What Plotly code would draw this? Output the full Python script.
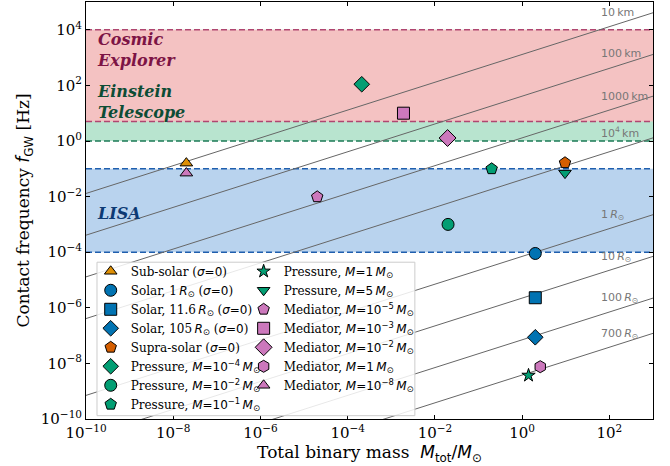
import plotly.graph_objects as go
import numpy as np

# ---------------- data ----------------
# Axis extents (decades)
x_range_log = [-10, 3]
y_range_log = [-10, 5]
x_tick_vals = [1e-10, 1e-8, 1e-6, 1e-4, 1e-2, 1e0, 1e2]
y_tick_vals = [1e-10, 1e-8, 1e-6, 1e-4, 1e-2, 1e0, 1e2, 1e4]

# Detector bands [f_low, f_high] in Hz
band_ce = [5.0, 1e4]
band_et = [1.0, 1e4]
band_lisa = [1e-4, 1e-1]

# Constant-separation lines: frequency at the two ends of the mass axis
line_labels = ["10 km", "100 km", "1000 km", "10<sup>4</sup> km",
               "1 R", "10 R", "100 R", "700 R"]
line_mass_ends = [1e-10, 1e3]
line_f_left = [1.297e-2, 4.100e-4, 1.297e-5, 4.100e-7, 7.066e-10, 2.234e-11, 7.066e-13, 3.815e-14]
line_f_right = [4.100e4, 1.297e3, 41.0, 1.297, 2.234e-3, 7.066e-5, 2.234e-6, 1.206e-7]

# Benchmark points
point_mass = [2e-8, 2.0, 2.0, 2.0, 9.6, 2.1e-4, 0.02, 0.2,
              1.4, 9.6, 2e-5, 1.9e-3, 0.0195, 2.6, 2e-8]
point_freq = [0.16, 9e-5, 2.3e-6, 8.7e-8, 0.165, 110.0, 1.0e-3, 0.1,
              3.7e-9, 0.07, 0.0098, 10.0, 1.28, 7.6e-9, 0.07]

SANS = "DejaVu Sans"
SERIF = "DejaVu Serif"
TS = "\u2009"  # thin space

def m(s):
    return "<span style=\"font-family:'DejaVu Sans'\">" + s + "</span>"

def pow_label(v):
    e = int(round(np.log10(v)))
    return "10<sup>" + (("−%d" % -e) if e < 0 else "%d" % e) + "</sup>"

RSUN = m("<i>R</i><sub>⊙</sub>")
SIG = "(" + m("<i>σ</i>=0") + ")"
def Mpow(p):
    return m("<i>M</i>=10<sup>−" + str(p) + "</sup>" + TS + "<i>M</i><sub>⊙</sub>")

point_names = [
    "Sub-solar " + SIG,
    "Solar, 1" + TS + RSUN + " " + SIG,
    "Solar, 11.6" + TS + RSUN + " " + SIG,
    "Solar, 105" + TS + RSUN + " " + SIG,
    "Supra-solar " + SIG,
    "Pressure, " + Mpow(4),
    "Pressure, " + Mpow(2),
    "Pressure, " + Mpow(1),
    "Pressure, " + m("<i>M</i>=1" + TS + "<i>M</i><sub>⊙</sub>"),
    "Pressure, " + m("<i>M</i>=5" + TS + "<i>M</i><sub>⊙</sub>"),
    "Mediator, " + Mpow(5),
    "Mediator, " + Mpow(3),
    "Mediator, " + Mpow(2),
    "Mediator, " + m("<i>M</i>=1" + TS + "<i>M</i><sub>⊙</sub>"),
    "Mediator, " + Mpow(8),
]

# ---------------- styles ----------------
C_BLUE = "#0173B2"
C_ORANGE = "#DE8F05"
C_GREEN = "#029E73"
C_RED = "#D55E00"
C_PINK = "#CC78BC"
point_colors = [C_ORANGE, C_BLUE, C_BLUE, C_BLUE, C_RED, C_GREEN, C_GREEN, C_GREEN,
                C_GREEN, C_GREEN, C_PINK, C_PINK, C_PINK, C_PINK, C_PINK]
point_symbols = ["triangle-up", "circle", "square", "diamond", "pentagon", "diamond",
                 "circle", "pentagon", "star", "triangle-down", "pentagon", "square",
                 "diamond", "hexagon", "triangle-up"]
point_sizes = [11, 12, 12, 12, 12, 12, 12, 12, 10, 11, 12, 12, 13, 12, 11]
point_legend = ["legend"] * 8 + ["legend2"] * 7

fig = go.Figure()

# detector bands (filled regions)
def band_shape(lo, hi, color):
    fig.add_shape(type="rect", xref="paper", yref="y", x0=0, x1=1, y0=lo, y1=hi,
                  fillcolor=color, line_width=0, layer="below")

band_shape(band_et[0], band_et[1], "#b8e4cf")
band_shape(band_ce[0], band_ce[1], "#f4c2c2")
band_shape(band_lisa[0], band_lisa[1], "#b9d3ee")

def hline(yv, color):
    fig.add_shape(type="line", xref="paper", yref="y", x0=0, x1=1, y0=yv, y1=yv,
                  line=dict(color=color, width=1.6, dash="6px,3px"), layer="below")

hline(band_et[0], "#1b7a55")
hline(band_lisa[0], "#1f5fae")
hline(band_lisa[1], "#1f5fae")
hline(band_ce[0], "#b04670")
hline(band_ce[1], "#b04670")

# constant-separation lines
for i in range(len(line_labels)):
    fig.add_trace(go.Scatter(x=line_mass_ends, y=[line_f_left[i], line_f_right[i]],
                             mode="lines", line=dict(color="#666666", width=1),
                             showlegend=False, hoverinfo="skip"))

# line labels (positions)
label_x_log = 1.77
label_y_log = [4.62, 3.15, 1.60, 0.31, -2.67, -4.18, -5.65, -6.94]
for i, t in enumerate(line_labels):
    txt = t.replace(" ", TS)
    if t.endswith(" R"):
        txt = t[:-2] + TS + "<i>R</i><sub>⊙</sub>"
    fig.add_annotation(x=label_x_log, y=label_y_log[i], xref="x", yref="y", text=txt,
                       showarrow=False, xanchor="left", yanchor="middle",
                       font=dict(family=SANS, size=11, color="#777777"))

# band labels
band_font = dict(family=SERIF, size=16, weight="bold", style="italic")
fig.add_annotation(x=0.016, y=4.05, xref="paper", yref="y",
                   text="Cosmic<br>Explorer", showarrow=False, xanchor="left", yanchor="top",
                   align="left", font=dict(color="#7d1445", **band_font))
fig.add_annotation(x=0.016, y=2.2, xref="paper", yref="y",
                   text="Einstein<br>Telescope", showarrow=False, xanchor="left", yanchor="top",
                   align="left", font=dict(color="#0d4d35", **band_font))
fig.add_annotation(x=0.016, y=-2.6, xref="paper", yref="y",
                   text="LISA", showarrow=False, xanchor="left", yanchor="middle",
                   align="left", font=dict(color="#0d3a74", **band_font))

# points
for i in range(len(point_names)):
    fig.add_trace(go.Scatter(x=[point_mass[i]], y=[point_freq[i]], mode="markers",
                             name=point_names[i], legend=point_legend[i],
                             marker=dict(symbol=point_symbols[i], size=point_sizes[i],
                                         color=point_colors[i],
                                         line=dict(color="black", width=1))))

# legend background box
fig.add_shape(type="rect", xref="paper", yref="paper", x0=0.0194, x1=0.58,
              y0=0.008, y1=0.376, fillcolor="rgba(255,255,255,0.85)",
              line=dict(color="#cccccc", width=1), layer="above")

leg_common = dict(bgcolor="rgba(0,0,0,0)", borderwidth=0, yanchor="top",
                  font=dict(family=SERIF, size=12, color="black"),
                  tracegroupgap=0, itemsizing="trace")
fig.update_layout(
    legend=dict(x=0.0083, y=0.389, xanchor="left", **leg_common),
    legend2=dict(x=0.278, y=0.389, xanchor="left", **leg_common),
)

axis_common = dict(type="log", showgrid=False, zeroline=False, showline=True,
                   linecolor="black", linewidth=1, mirror="ticks", ticks="inside",
                   ticklen=4, tickcolor="black",
                   tickfont=dict(family=SERIF, size=15, color="black"))
fig.update_xaxes(range=x_range_log, tickvals=x_tick_vals,
                 ticktext=[pow_label(v) for v in x_tick_vals], **axis_common,
                 title=dict(text="Total binary mass  " + m("<i>M</i><sub>tot</sub>/<i>M</i><sub>⊙</sub>"),
                            font=dict(family=SERIF, size=17, color="black"), standoff=4))
fig.update_yaxes(range=y_range_log, tickvals=y_tick_vals,
                 ticktext=[pow_label(v) for v in y_tick_vals], **axis_common,
                 title=dict(text="Contact frequency " + m("<i>f</i><sub>GW</sub>") + " [Hz]",
                            font=dict(family=SERIF, size=17, color="black"), standoff=6))

fig.update_layout(width=670, height=466, margin=dict(l=86, r=17, t=2, b=47),
                  paper_bgcolor="white", plot_bgcolor="white", showlegend=True)

fig.write_html("out.html")
